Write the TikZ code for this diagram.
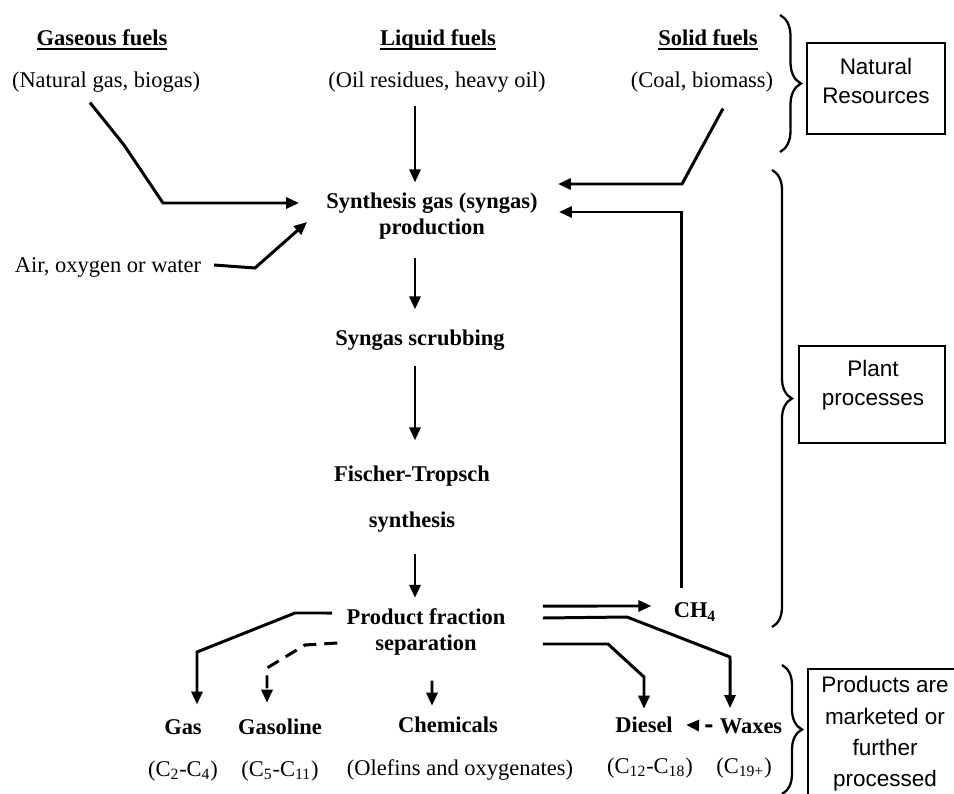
\documentclass[tikz,border=0pt]{standalone}
\usepackage{fontspec}
\setmainfont{Liberation Serif}
\newfontfamily\boxfont{Liberation Sans}
\usetikzlibrary{arrows.meta,decorations.pathreplacing}

% heading with a heavier underline
\newcommand{\hdline}[1]{\vtop{\setbox0\hbox{#1}\dp0=0pt\box0\kern1.6pt\hrule height 1pt}}

\tikzset{
  txt/.style={inner sep=0pt, font=\fontsize{12.8}{14.8}\selectfont},
  stage/.style={txt, font=\fontsize{12.8}{14.8}\selectfont\bfseries, align=center},
  flow/.style={line width=1.7pt, -{Triangle[length=0.26cm,width=0.22cm]}},
  dflow/.style={flow, dash pattern=on 0.26cm off 0.16cm},
  grp/.style={line width=1.3pt, decorate, decoration={brace, amplitude=0.42cm}},
  tagbox/.style={draw, line width=0.9pt, inner sep=0pt},
  tagtxt/.style={inner sep=0pt, align=center, font=\boxfont\fontsize{12.8}{16.5}\selectfont},
}

\begin{document}
\begin{tikzpicture}[x=0.02cm, y=-0.02cm]
  \useasboundingbox (0,0) rectangle (954,794);
  \coordinate (axis) at (415,0);
  % feedstocks
  \node[stage] (gaseous) at (102,40) {\hdline{Gaseous fuels}};
  \node[stage] (liquid) at (438,40) {\hdline{Liquid fuels}};
  \node[stage] (solid) at (708,40) {\hdline{Solid fuels}};
  \node[txt] (natgas) at (106,82) {(Natural gas, biogas)};
  \node[txt] (oil) at (437,82) {(Oil residues, heavy oil)};
  \node[txt] (coal) at (702,82) {(Coal, biomass)};
  \node[txt] (air) at (108,267) {Air, oxygen or water};
  % plant steps
  \node[stage] (syngas) at (432,216) {Synthesis gas (syngas)\\production};
  \node[stage] (scrub) at (420,340) {Syngas scrubbing};
  \node[stage] (ft) at (412,499) {Fischer-Tropsch\\[11.4pt]synthesis};
  \node[stage] (sep) at (426,632) {Product fraction\\separation};
  \node[stage] (ch4) at (695,612) {CH\textsubscript{4}};
  % products
  \node[stage] (gas) at (183,727) {Gas};
  \node[stage] (gasoline) at (280,727) {Gasoline};
  \node[stage] (chem) at (448,725) {Chemicals};
  \node[stage] (diesel) at (644,725) {Diesel};
  \node[stage] (waxes) at (751,726) {Waxes};
  \node[txt] (c2) at (183,771) {(C\textsubscript{2}-C\textsubscript{4})};
  \node[txt] (c5) at (280,771) {(C\textsubscript{5}-C\textsubscript{11})};
  \node[txt] (olefins) at (460,770) {(Olefins and oxygenates)};
  \node[txt] (c12) at (650,768) {(C\textsubscript{12}-C\textsubscript{18})};
  \node[txt] (c19) at (744,768) {(C\textsubscript{19+})};
  % side boxes
  \node[tagbox, minimum width=2.76cm, minimum height=1.82cm] (natbox) at (876,88.5) {};
  \node[tagtxt] (nattxt) at (876,81) {Natural\\Resources};
  \node[tagbox, minimum width=2.92cm, minimum height=1.94cm] (plantbox) at (872,394.5) {};
  \node[tagtxt] (planttxt) at (873,385) {Plant\\processes};
  % last box runs off the page
  \draw[line width=0.9pt] (954,669) -- (808,669) -- (808,794);
  \node[tagtxt, font=\boxfont\fontsize{12.8}{17.9}\selectfont] (mkttxt) at (885,734) {Products are\\marketed or\\further\\processed};
  \draw[grp] (780,15) -- (780,152);
  \draw[grp, decoration={amplitude=0.4cm}] (772,170) -- (772,627);
  \draw[grp, decoration={amplitude=0.4cm}] (782,665) -- (782,794);

  % feeds into syngas
  \draw[flow] ([xshift=-0.32cm,yshift=-0.2cm]natgas.south) -- (124,145) -- (163,203)
    -- ([xshift=-0.54cm,yshift=0.26cm]syngas.west);
  \draw[flow] ([xshift=0.25cm,yshift=0.04cm]air.east) -- (255,268)
    -- ([xshift=-0.38cm,yshift=-0.12cm]syngas.west);
  \draw[flow, shorten <=0.26cm, shorten >=0.2cm] (oil.south -| axis) -- (syngas.north -| axis);
  \draw[flow] ([xshift=0.42cm,yshift=-0.32cm]coal.south) -- (682,184)
    -- ([xshift=0.4cm,yshift=0.64cm]syngas.east);
  \draw[flow] ([xshift=0.16cm,yshift=0.3cm]ch4.north west)
    |- ([xshift=0.42cm,yshift=0.08cm]syngas.east);
  % main line
  \draw[flow, shorten <=0.36cm, shorten >=0.4cm] (syngas.south -| axis) -- (scrub.north -| axis);
  \draw[flow, shorten <=0.3cm, shorten >=0.5cm] (scrub.south -| axis) -- (ft.north -| axis);
  \draw[flow, shorten <=0.42cm, shorten >=0.21cm] (ft.south -| axis) -- (sep.north -| axis);
  % product split
  \draw[flow] ([xshift=-0.28cm,yshift=0.38cm]sep.west) -- (295,613) -- (197,652)
    -- ([xshift=0.28cm,yshift=0.29cm]gas.north);
  \draw[dflow] ([xshift=-0.18cm,yshift=-0.22cm]sep.west) -- (305,645) -- (267,668)
    -- ([xshift=-0.26cm,yshift=0.32cm]gasoline.north);
  \draw[flow, shorten <=0.5cm, shorten >=0.22cm] ([xshift=0.12cm]sep.south) -- ([xshift=-0.32cm]chem.north);
  \draw[flow] ([xshift=0.74cm,yshift=0.52cm]sep.east) -- ([xshift=-0.44cm,yshift=0.12cm]ch4.west);
  \draw[flow] ([xshift=0.74cm,yshift=0.28cm]sep.east) -- (627,617) -- (730,657)
    -- ([xshift=-0.42cm,yshift=0.2cm]waxes.north);
  \draw[flow] ([xshift=0.74cm,yshift=-0.24cm]sep.east) -- (608,644) -- (644,677)
    -- ([yshift=0.16cm]diesel.north);
  \draw[flow, dash pattern=on 0.14cm off 0.2cm] ([xshift=-0.14cm]waxes.west) -- ([xshift=0.26cm]diesel.east);
\end{tikzpicture}
\end{document}
